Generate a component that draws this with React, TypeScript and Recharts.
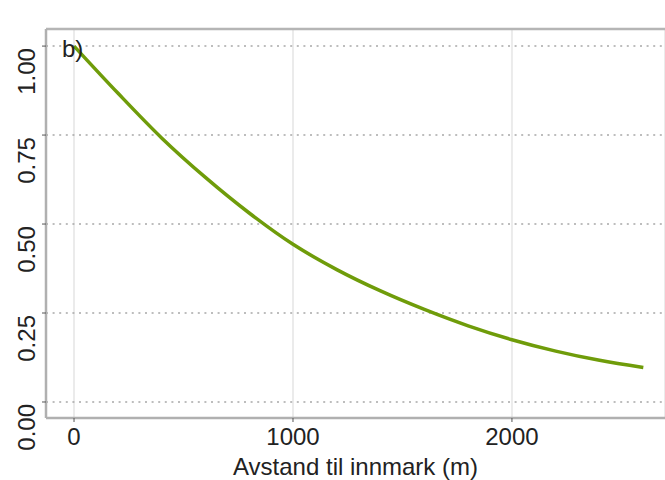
import React from "react";
import {
  LineChart,
  Line,
  XAxis,
  YAxis,
  CartesianGrid,
  ReferenceLine,
} from "recharts";

// avstand (m) og sannsynlighet lest av figuren
const distance = [0, 200, 400, 600, 800, 1000, 1200, 1400, 1600, 1800, 2000, 2200, 2400, 2600];
const probability = [1.0, 0.868, 0.742, 0.631, 0.531, 0.443, 0.372, 0.312, 0.26, 0.214, 0.175, 0.143, 0.117, 0.097];
const xTicks = [0, 1000, 2000];
const yTicks = [0, 0.25, 0.5, 0.75, 1];

const X_DOMAIN = [-128, 2699];
const Y_DOMAIN = [-0.045, 1.048];

const data = distance.map((d, i) => ({ d, p: probability[i] }));

const FONT = "'Liberation Sans', Arial, Helvetica, sans-serif";

const XTick = (props: any) => {
  const { x, y, payload } = props;
  return (
    <text x={x} y={y} dy="0.71em" textAnchor="middle" fill="#222" fontSize={24} fontFamily={FONT}>
      {payload.value}
    </text>
  );
};

const YTick = (props: any) => {
  const { x, y, payload } = props;
  return (
    <text
      x={x}
      y={y + 2}
      transform={`rotate(-90, ${x}, ${y + 2})`}
      textAnchor="end"
      fill="#222"
      fontSize={24}
      fontFamily={FONT}>
      {Number(payload.value).toFixed(2)}
    </text>
  );
};

const App: React.FC = () => {
  return (
    <div style={{ position: "absolute", left: 0, top: 0, width: 665, height: 480, background: "#fff" }}>
      <LineChart
        width={665}
        height={480}
        data={data}
        margin={{ top: 29, right: 0, left: 0, bottom: 0 }}>
        <CartesianGrid horizontal={false} stroke="#ebebeb" strokeWidth={2} />
        {yTicks.map((t) => (
          <ReferenceLine key={t} y={t} stroke="#a8a8a8" strokeWidth={1.5} strokeDasharray="2 4.6" />
        ))}
        <ReferenceLine y={Y_DOMAIN[1]} stroke="#b5b5b5" strokeWidth={2.5} />
        <XAxis
          dataKey="d"
          type="number"
          domain={X_DOMAIN}
          ticks={xTicks}
          allowDataOverflow
          height={62}
          tickSize={4}
          tickMargin={6}
          tick={<XTick />}
          axisLine={{ stroke: "#b0b0b0", strokeWidth: 2.5 }}
          tickLine={{ stroke: "#555" }}
          label={{
            value: "Avstand til innmark (m)",
            position: "insideBottom",
            offset: 5,
            fill: "#222",
            fontSize: 24,
            fontFamily: FONT,
          }}
        />
        <YAxis
          type="number"
          domain={Y_DOMAIN}
          ticks={yTicks}
          allowDataOverflow
          width={46}
          tickSize={4}
          tickMargin={7}
          tick={<YTick />}
          axisLine={{ stroke: "#b0b0b0", strokeWidth: 2.5 }}
          tickLine={{ stroke: "#555" }}
        />
        <Line
          type="monotone"
          dataKey="p"
          stroke="#6f9c0a"
          strokeWidth={3.5}
          dot={false}
          isAnimationActive={false}
        />
      </LineChart>
      <div
        style={{
          position: "absolute",
          left: 62,
          top: 35,
          fontFamily: FONT,
          fontSize: 24,
          lineHeight: "28px",
          color: "#222",
        }}>
        b)
      </div>
    </div>
  );
};

export default App;
